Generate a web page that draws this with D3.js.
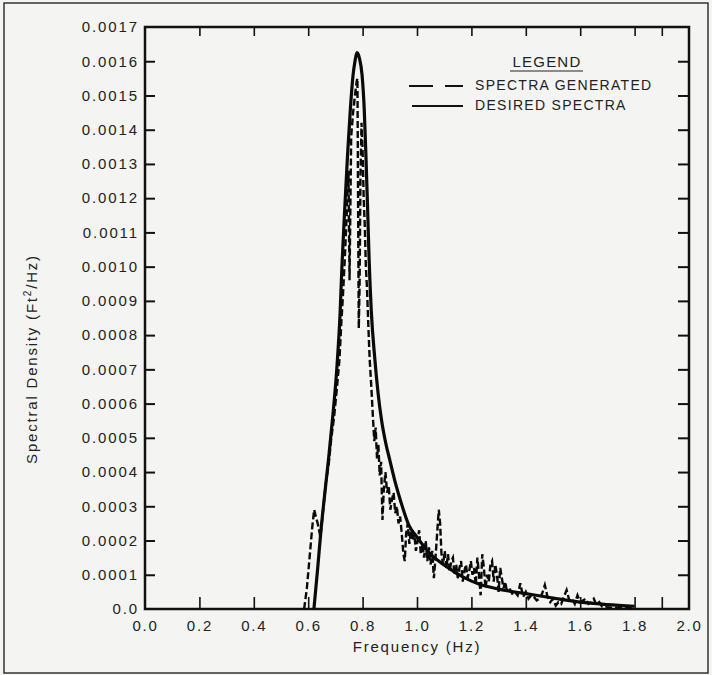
<!DOCTYPE html>
<html>
<head>
<meta charset="utf-8">
<script src="https://cdn.jsdelivr.net/npm/d3@7"></script>
<style>
  body { margin: 0; background: #f4f4f2; }
  text { font-family: "Liberation Sans", Arial, sans-serif; fill: #222; }
</style>
</head>
<body>
<svg id="chart" width="712" height="675"></svg>
<script>
var WIDTH = 712, HEIGHT = 675;
var margin = {top: 27, right: 23, bottom: 66, left: 145};

// desired (target) spectrum, solid line
var desiredFreq = [0.621, 0.635, 0.647, 0.66, 0.675, 0.69, 0.705, 0.717, 0.724, 0.735, 0.745, 0.755, 0.765, 0.772, 0.779,
  0.788, 0.798, 0.806, 0.812, 0.818, 0.824, 0.832, 0.845, 0.857, 0.870, 0.885, 0.90, 0.92, 0.94, 0.97, 1.00, 1.05, 1.11, 1.17,
  1.23, 1.30, 1.40, 1.50, 1.60, 1.70, 1.80];
var desiredSpec = [0, 1.2e-4, 2.3e-4, 3.3e-4, 4.4e-4, 5.6e-4, 7.0e-4, 8.6e-4, 10.0e-4, 11.8e-4, 13.3e-4, 14.6e-4, 15.6e-4, 16.0e-4, 16.25e-4,
  16.1e-4, 15.6e-4, 14.6e-4, 13.3e-4, 11.8e-4, 10.2e-4, 8.7e-4, 7.3e-4, 6.3e-4, 5.5e-4, 4.85e-4, 4.35e-4, 3.7e-4, 3.15e-4, 2.45e-4, 2.1e-4, 1.6e-4, 1.23e-4, 0.93e-4,
  0.72e-4, 0.58e-4, 0.45e-4, 0.32e-4, 0.2e-4, 0.13e-4, 0.08e-4];

// generated spectrum, dashed line
var genFreq = [0.585, 0.595, 0.605, 0.615, 0.622, 0.628, 0.635, 0.645, 0.655, 0.665, 0.675, 0.685, 0.695, 0.705, 0.715,
  0.722, 0.728, 0.735, 0.742, 0.748, 0.752, 0.758, 0.765, 0.772, 0.778, 0.781, 0.784, 0.786, 0.789, 0.792, 0.796, 0.800,
  0.804, 0.808, 0.812, 0.816, 0.821, 0.826, 0.832, 0.838, 0.843, 0.848, 0.853, 0.858, 0.863, 0.868, 0.873, 0.878, 0.884,
  0.890, 0.896, 0.902, 0.908, 0.914, 0.920, 0.926, 0.932, 0.938, 0.944, 0.950, 0.955, 0.960, 0.966, 0.972, 0.978, 0.984,
  0.990, 0.996, 1.002, 1.008, 1.014, 1.020, 1.026, 1.032, 1.038, 1.044, 1.050, 1.056, 1.062, 1.068, 1.074, 1.080, 1.085,
  1.090, 1.096, 1.102, 1.108, 1.114, 1.120, 1.126, 1.132, 1.138, 1.144, 1.150, 1.156, 1.162, 1.168, 1.174, 1.180, 1.186,
  1.192, 1.198, 1.204, 1.210, 1.216, 1.222, 1.228, 1.234, 1.240, 1.246, 1.252, 1.258, 1.264, 1.270, 1.276, 1.282, 1.288,
  1.294, 1.300, 1.306, 1.312, 1.318, 1.324, 1.330, 1.340, 1.350, 1.360, 1.370, 1.380, 1.390, 1.400, 1.410, 1.420, 1.430,
  1.440, 1.450, 1.460, 1.470, 1.480, 1.490, 1.500, 1.510, 1.520, 1.530, 1.540, 1.550, 1.560, 1.570, 1.580, 1.590, 1.600,
  1.610, 1.620, 1.630, 1.640, 1.650, 1.660, 1.670, 1.680, 1.690, 1.700, 1.720, 1.750, 1.780, 1.800];
var genSpec = [0, 0.6e-4, 1.5e-4, 2.4e-4, 2.9e-4, 2.7e-4, 2.5e-4, 2.1e-4, 2.9e-4, 3.7e-4, 4.2e-4, 5.0e-4, 5.6e-4, 6.4e-4, 7.3e-4,
  8.4e-4, 9.2e-4, 10.3e-4, 11.6e-4, 12.8e-4, 9.6e-4, 13.8e-4, 14.5e-4, 15.0e-4, 15.4e-4, 15.5e-4, 11.0e-4, 8.2e-4, 9.5e-4, 12.5e-4, 14.2e-4, 13.4e-4,
  12.0e-4, 11.2e-4, 10.0e-4, 9.4e-4, 8.3e-4, 7.3e-4, 6.5e-4, 5.6e-4, 4.9e-4, 5.3e-4, 4.4e-4, 4.8e-4, 3.9e-4, 4.3e-4, 2.6e-4, 3.5e-4, 4.0e-4,
  3.4e-4, 3.6e-4, 2.9e-4, 3.2e-4, 3.4e-4, 2.8e-4, 3.0e-4, 2.5e-4, 2.7e-4, 2.2e-4, 1.6e-4, 1.4e-4, 2.2e-4, 2.5e-4, 1.9e-4, 2.3e-4, 2.0e-4,
  2.2e-4, 1.7e-4, 2.0e-4, 2.3e-4, 1.6e-4, 1.9e-4, 1.5e-4, 2.0e-4, 1.4e-4, 1.8e-4, 1.3e-4, 1.7e-4, 0.9e-4, 1.5e-4, 2.2e-4, 2.9e-4, 2.5e-4,
  1.6e-4, 1.3e-4, 1.7e-4, 1.2e-4, 1.6e-4, 1.1e-4, 1.4e-4, 1.5e-4, 1.0e-4, 1.3e-4, 0.9e-4, 1.2e-4, 1.4e-4, 0.8e-4, 1.1e-4, 1.3e-4, 0.9e-4,
  1.1e-4, 1.4e-4, 1.0e-4, 1.2e-4, 0.7e-4, 1.5e-4, 1.0e-4, 0.4e-4, 1.6e-4, 1.2e-4, 0.6e-4, 1.0e-4, 0.8e-4, 1.3e-4, 1.4e-4, 0.8e-4, 1.3e-4,
  1.0e-4, 0.5e-4, 1.2e-4, 0.9e-4, 0.6e-4, 0.8e-4, 0.55e-4, 0.6e-4, 0.45e-4, 0.5e-4, 0.4e-4, 0.75e-4, 0.35e-4, 0.5e-4, 0.3e-4, 0.4e-4, 0.35e-4,
  0.25e-4, 0.3e-4, 0.45e-4, 0.7e-4, 0.35e-4, 0.2e-4, 0.3e-4, 0.1e-4, 0.2e-4, 0.15e-4, 0.35e-4, 0.55e-4, 0.25e-4, 0.3e-4, 0.15e-4, 0.4e-4, 0.2e-4,
  0.25e-4, 0.3e-4, 0.15e-4, 0.2e-4, 0.3e-4, 0.12e-4, 0.2e-4, 0.08e-4, 0.1e-4, 0.05e-4, 0.04e-4, 0.03e-4, 0.02e-4, 0.01e-4];

var xLabels = [0.0, 0.2, 0.4, 0.6, 0.8, 1.0, 1.2, 1.4, 1.6, 1.8, 2.0];
var xTicks = [0.2, 0.4, 0.6, 0.8, 1.0, 1.2, 1.4, 1.6, 1.8, 1.9];
var yLabels = [0, 0.0001, 0.0002, 0.0003, 0.0004, 0.0005, 0.0006, 0.0007, 0.0008, 0.0009, 0.0010, 0.0011,
  0.0012, 0.0013, 0.0014, 0.0015, 0.0016, 0.0017];

var legendItems = ["SPECTRA GENERATED", "DESIRED SPECTRA"];

var svg = d3.select("#chart");

// outer frame
svg.append("rect")
  .attr("x", 4).attr("y", 3)
  .attr("width", WIDTH - 8).attr("height", HEIGHT - 5)
  .style("fill", "none")
  .style("stroke", "#333")
  .style("stroke-width", 1.5);

var xScale = d3.scaleLinear().domain([0, 2]).range([margin.left, WIDTH - margin.right]);
var yScale = d3.scaleLinear().domain([0, 0.0017]).range([HEIGHT - margin.bottom, margin.top]);

var x0 = xScale(0), x1 = xScale(2), y0 = yScale(0), y1 = yScale(0.0017);

// x tick labels
svg.append("g")
  .attr("transform", "translate(0," + y0 + ")")
  .call(d3.axisBottom(xScale).tickValues(xLabels).tickSize(0).tickPadding(11).tickFormat(d3.format(".1f")))
  .call(g => g.select(".domain").remove())
  .selectAll("text")
  .style("font-size", "15px")
  .style("letter-spacing", "1.8px")
  .style("fill", "#222");

// inward ticks, bottom and top
svg.append("g")
  .attr("transform", "translate(0," + y0 + ")")
  .call(d3.axisBottom(xScale).tickValues(xTicks).tickSize(-12).tickFormat(""))
  .call(g => g.select(".domain").remove())
  .selectAll("line").style("stroke", "#111").style("stroke-width", 1.6);

svg.append("g")
  .attr("transform", "translate(0," + y1 + ")")
  .call(d3.axisTop(xScale).tickValues(xTicks).tickSize(-9).tickFormat(""))
  .call(g => g.select(".domain").remove())
  .selectAll("line").style("stroke", "#111").style("stroke-width", 1.6);

// y tick labels + inward ticks
svg.append("g")
  .attr("transform", "translate(" + x0 + ",0)")
  .call(d3.axisLeft(yScale).tickValues(yLabels).tickSize(0).tickPadding(6)
    .tickFormat(d => d === 0 ? "0.0" : d3.format(".4f")(d)))
  .call(g => g.select(".domain").remove())
  .selectAll("text")
  .style("font-size", "15px")
  .style("letter-spacing", "1.9px")
  .style("fill", "#222");

var yTicks = yLabels.slice(1, -1);
svg.append("g")
  .attr("transform", "translate(" + x0 + ",0)")
  .call(d3.axisLeft(yScale).tickValues(yTicks).tickSize(-10).tickFormat(""))
  .call(g => g.select(".domain").remove())
  .selectAll("line").style("stroke", "#111").style("stroke-width", 2);

svg.append("g")
  .attr("transform", "translate(" + x1 + ",0)")
  .call(d3.axisRight(yScale).tickValues(yTicks).tickSize(-11).tickFormat(""))
  .call(g => g.select(".domain").remove())
  .selectAll("line").style("stroke", "#111").style("stroke-width", 2);

// plot box
svg.append("rect")
  .attr("x", x0).attr("y", y1)
  .attr("width", x1 - x0).attr("height", y0 - y1)
  .style("fill", "none")
  .style("stroke", "#111")
  .style("stroke-width", 2.5);

// axis titles
svg.append("text")
  .attr("x", (x0 + x1) / 2)
  .attr("y", 652)
  .style("text-anchor", "middle")
  .style("font-size", "15px")
  .style("letter-spacing", "1.8px")
  .text("Frequency (Hz)");

var yTitle = svg.append("text")
  .attr("transform", "translate(37,359) rotate(-90)")
  .style("text-anchor", "middle")
  .style("font-size", "15px")
  .style("letter-spacing", "1.8px");
yTitle.append("tspan").text("Spectral Density (Ft");
yTitle.append("tspan").attr("dy", -6).style("font-size", "10px").text("2");
yTitle.append("tspan").attr("dy", 6).text("/Hz)");

// curves
var line = d3.line()
  .x(d => xScale(d[0]))
  .y(d => yScale(d[1]));

var desired = d3.zip(desiredFreq, desiredSpec);
var generated = d3.zip(genFreq, genSpec);

svg.append("path")
  .attr("d", line.curve(d3.curveMonotoneX)(desired))
  .style("fill", "none")
  .style("stroke", "#0a0a0a")
  .style("stroke-width", 3.2);

svg.append("path")
  .attr("d", line.curve(d3.curveLinear)(generated))
  .style("fill", "none")
  .style("stroke", "#0a0a0a")
  .style("stroke-width", 2.4)
  .style("stroke-dasharray", "7,3");

// legend
svg.append("text")
  .attr("x", 547).attr("y", 67)
  .style("text-anchor", "middle")
  .style("font-size", "15px")
  .style("letter-spacing", "1.2px")
  .text("LEGEND");
svg.append("line")
  .attr("x1", 510).attr("x2", 583)
  .attr("y1", 71).attr("y2", 71)
  .style("stroke", "#222").style("stroke-width", 1.2);

var legendY = [90, 110];
legendItems.forEach(function(name, i) {
  svg.append("text")
    .attr("x", 475).attr("y", legendY[i])
    .style("font-size", "14px")
    .style("letter-spacing", "1.3px")
    .text(name);
  svg.append("line")
    .attr("x1", i === 0 ? 409 : 412).attr("x2", 463)
    .attr("y1", legendY[i] - 4).attr("y2", legendY[i] - 4)
    .style("stroke", "#111")
    .style("stroke-width", i === 0 ? 2.2 : 2)
    .style("stroke-dasharray", i === 0 ? "24,12" : null);
});
</script>
</body>
</html>
